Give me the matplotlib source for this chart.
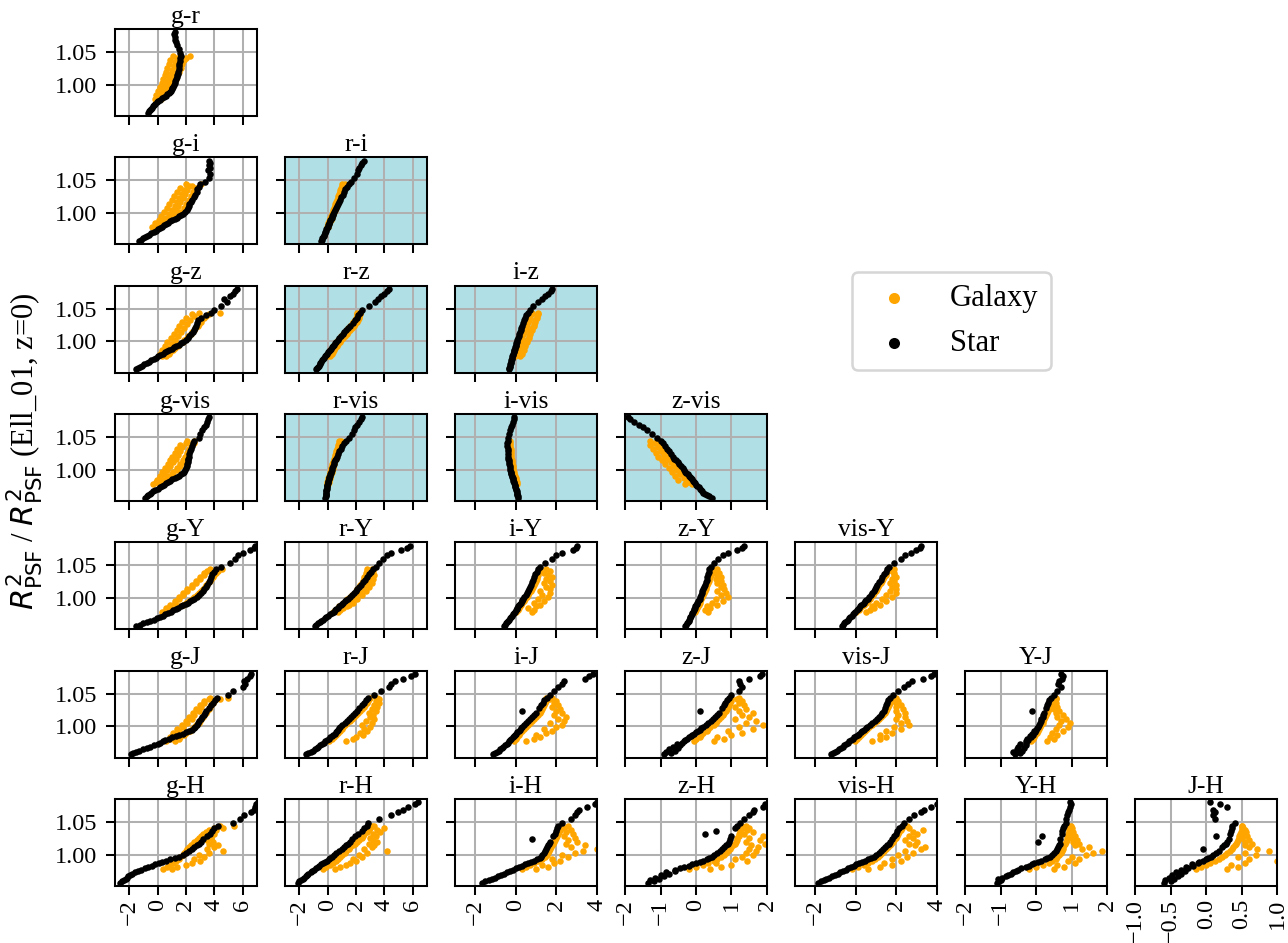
import numpy as np
import matplotlib.pyplot as plt

plt.rcParams['font.family'] = ['Liberation Serif', 'DejaVu Serif']
plt.rcParams['mathtext.fontset'] = 'dejavusans'
plt.rcParams['xtick.labelsize'] = 9.5
plt.rcParams['ytick.labelsize'] = 9.5

bands = ['g', 'r', 'i', 'z', 'vis', 'Y', 'J', 'H']
optical = ['r', 'i', 'z', 'vis']

# R^2 ratio of each star / galaxy (shared by all panels)
star_y = [0.957, 0.959, 0.961, 0.963, 0.965, 0.967, 0.969, 0.971, 0.973, 0.975,
          0.977, 0.979, 0.981, 0.983, 0.985, 0.987, 0.989, 0.991, 0.993, 0.995,
          0.997, 0.999, 1.002, 1.005, 1.008, 1.011, 1.014, 1.017, 1.020, 1.024,
          1.028, 1.032, 1.036, 1.040, 1.044, 1.048, 1.054, 1.060, 1.065, 1.069,
          1.073, 1.077, 1.080]
gal_y = [0.978, 0.981, 0.984, 0.987, 0.990, 0.993, 0.996, 0.999, 1.002, 1.005,
         1.008, 1.011, 1.014, 1.017, 1.020, 1.023, 1.026, 1.029, 1.032, 1.035,
         1.038, 1.041, 1.044]

# star colours, one list per panel
star_x = {
    'g-r': [-0.65, -0.6, -0.52, -0.45, -0.38, -0.3, -0.22, -0.15, -0.05, 0.05,
            0.15, 0.3, 0.45, 0.6, 0.7, 0.8, 0.88, 0.95, 1.0, 1.05,
            1.1, 1.15, 1.2, 1.25, 1.3, 1.35, 1.38, 1.42, 1.45, 1.5,
            1.52, 1.55, 1.6, 1.62, 1.65, 1.6, 1.5, 1.4, 1.3, 1.25,
            1.2, 1.15, 1.2],
    'g-i': [-1.3, -1.18, -1.03, -0.88, -0.73, -0.58, -0.43, -0.28, -0.13, 0.0,
            0.15, 0.3, 0.45, 0.6, 0.75, 0.9, 1.05, 1.2, 1.35, 1.5,
            1.65, 1.8, 1.95, 2.05, 2.12, 2.2, 2.25, 2.35, 2.45, 2.55,
            2.65, 2.75, 2.82, 2.9, 3.0, 3.35, 3.6, 3.7, 3.55, 3.7,
            3.6, 3.7, 3.65],
    'r-i': [-0.45, -0.4, -0.36, -0.32, -0.28, -0.24, -0.2, -0.16, -0.12, -0.08,
            -0.04, 0.0, 0.04, 0.08, 0.12, 0.16, 0.2, 0.24, 0.28, 0.32,
            0.36, 0.4, 0.46, 0.53, 0.6, 0.67, 0.74, 0.82, 0.9, 0.98,
            1.07, 1.16, 1.26, 1.36, 1.5, 1.65, 1.85, 2.05, 2.15, 2.25,
            2.35, 2.45, 2.55],
    'g-z': [-1.5, -1.4, -1.24, -1.08, -0.92, -0.76, -0.6, -0.44, -0.28, -0.12,
            0.04, 0.2, 0.36, 0.52, 0.68, 0.84, 1.0, 1.16, 1.32, 1.48,
            1.64, 1.8, 1.98, 2.12, 2.25, 2.38, 2.48, 2.55, 2.62, 2.7,
            2.78, 2.85, 3.1, 3.45, 3.75, 4.0, 4.5, 4.9, 4.7, 5.1,
            5.3, 5.5, 5.6],
    'r-z': [-0.85, -0.78, -0.71, -0.64, -0.57, -0.5, -0.43, -0.36, -0.3, -0.23,
            -0.16, -0.09, -0.02, 0.05, 0.12, 0.19, 0.26, 0.33, 0.4, 0.47,
            0.54, 0.61, 0.72, 0.82, 0.93, 1.06, 1.18, 1.31, 1.43, 1.6,
            1.78, 1.9, 2.05, 2.15, 2.3, 2.45, 2.95, 3.35, 3.55, 3.75,
            4.0, 4.2, 4.3],
    'i-z': [-0.36, -0.33, -0.31, -0.29, -0.27, -0.25, -0.23, -0.22, -0.2, -0.18,
            -0.17, -0.15, -0.13, -0.11, -0.09, -0.07, -0.05, -0.03, -0.01, 0.01,
            0.03, 0.05, 0.08, 0.11, 0.14, 0.17, 0.2, 0.23, 0.26, 0.3,
            0.35, 0.4, 0.45, 0.5, 0.6, 0.7, 0.85, 1.1, 1.3, 1.45,
            1.6, 1.75, 1.8],
    'g-vis': [-0.85, -0.75, -0.65, -0.55, -0.45, -0.3, -0.15, 0.0, 0.15, 0.3,
              0.45, 0.6, 0.75, 0.9, 1.05, 1.2, 1.35, 1.5, 1.65, 1.8,
              1.9, 1.95, 2.0, 2.05, 2.1, 2.12, 2.15, 2.18, 2.2, 2.25,
              2.3, 2.35, 2.45, 2.5, 2.6, 2.9, 3.0, 3.15, 3.3, 3.4,
              3.5, 3.55, 3.6],
    'r-vis': [-0.15, -0.14, -0.13, -0.12, -0.11, -0.1, -0.08, -0.07, -0.05, -0.04,
              -0.02, 0.0, 0.02, 0.04, 0.07, 0.1, 0.13, 0.16, 0.19, 0.22,
              0.25, 0.28, 0.33, 0.37, 0.42, 0.47, 0.53, 0.6, 0.66, 0.75,
              0.84, 0.93, 1.03, 1.15, 1.3, 1.5, 1.7, 1.85, 1.95, 2.05,
              2.2, 2.35, 2.45],
    'i-vis': [0.12, 0.1, 0.08, 0.07, 0.05, 0.04, 0.02, 0.0, -0.02, -0.04,
              -0.06, -0.08, -0.1, -0.12, -0.14, -0.16, -0.18, -0.2, -0.22, -0.24,
              -0.26, -0.27, -0.29, -0.31, -0.33, -0.34, -0.36, -0.37, -0.38, -0.39,
              -0.4, -0.41, -0.42, -0.42, -0.41, -0.4, -0.35, -0.3, -0.22, -0.17,
              -0.14, -0.1, -0.08],
    'z-vis': [0.45, 0.38, 0.3, 0.25, 0.2, 0.17, 0.13, 0.1, 0.07, 0.03,
              0.0, -0.03, -0.06, -0.09, -0.12, -0.15, -0.18, -0.21, -0.24, -0.27,
              -0.3, -0.33, -0.37, -0.42, -0.47, -0.52, -0.57, -0.62, -0.66, -0.71,
              -0.76, -0.82, -0.88, -0.94, -1.0, -1.1, -1.25, -1.38, -1.5, -1.6,
              -1.75, -1.85, -1.92],
    'g-Y': [-1.5, -1.25, -1.0, -0.75, -0.5, -0.27, -0.03, 0.2, 0.38, 0.56,
            0.74, 0.92, 1.1, 1.28, 1.46, 1.64, 1.82, 2.0, 2.15, 2.3,
            2.45, 2.6, 2.8, 2.95, 3.1, 3.2, 3.3, 3.4, 3.5, 3.6,
            3.7, 3.8, 3.85, 3.95, 4.1, 4.5, 5.1, 5.5, 5.7, 6.0,
            6.5, 6.8, 6.9],
    'r-Y': [-0.9, -0.8, -0.68, -0.56, -0.44, -0.32, -0.2, -0.08, 0.04, 0.16,
            0.3, 0.42, 0.52, 0.62, 0.72, 0.82, 0.92, 1.02, 1.12, 1.22,
            1.32, 1.42, 1.56, 1.7, 1.84, 1.98, 2.1, 2.22, 2.34, 2.48,
            2.62, 2.76, 2.9, 3.05, 3.2, 3.4, 3.6, 3.9, 4.2, 4.5,
            5.2, 5.6, 5.8],
    'i-Y': [-0.6, -0.55, -0.5, -0.45, -0.4, -0.35, -0.3, -0.25, -0.2, -0.15,
            -0.1, -0.05, 0.0, 0.04, 0.08, 0.12, 0.16, 0.2, 0.24, 0.28,
            0.32, 0.36, 0.42, 0.48, 0.54, 0.6, 0.66, 0.72, 0.77, 0.82,
            0.87, 0.92, 0.97, 1.02, 1.1, 1.2, 1.45, 1.8, 2.0, 2.3,
            2.8, 2.95, 3.0],
    'z-Y': [-0.3, -0.27, -0.25, -0.23, -0.21, -0.19, -0.17, -0.16, -0.14, -0.12,
            -0.11, -0.09, -0.07, -0.05, -0.03, -0.02, 0.0, 0.02, 0.04, 0.06,
            0.08, 0.1, 0.12, 0.14, 0.16, 0.18, 0.2, 0.22, 0.24, 0.27,
            0.3, 0.32, 0.34, 0.36, 0.38, 0.42, 0.5, 0.62, 0.75, 0.9,
            1.15, 1.3, 1.35],
    'vis-Y': [-0.7, -0.64, -0.58, -0.52, -0.46, -0.4, -0.34, -0.28, -0.22, -0.16,
              -0.1, -0.03, 0.03, 0.09, 0.15, 0.21, 0.27, 0.33, 0.39, 0.45,
              0.51, 0.57, 0.65, 0.73, 0.8, 0.87, 0.94, 1.0, 1.06, 1.14,
              1.22, 1.3, 1.38, 1.46, 1.55, 1.65, 1.9, 2.2, 2.4, 2.7,
              2.95, 3.15, 3.2],
    'g-J': [-1.9, -1.7, -1.5, -1.3, -1.0, -0.75, -0.5, -0.25, 0.0, 0.2,
            0.4, 0.55, 0.8, 1.05, 1.3, 1.55, 1.8, 2.0, 2.2, 2.4,
            2.55, 2.65, 2.75, 2.85, 2.95, 3.05, 3.15, 3.25, 3.35, 3.45,
            3.6, 3.75, 3.9, 4.05, 4.2, 5.0, 5.3, 6.0, 6.2, 6.1,
            6.3, 6.5, 6.6],
    'r-J': [-1.5, -1.35, -1.2, -1.05, -0.9, -0.78, -0.65, -0.52, -0.4, -0.28,
            -0.16, -0.04, 0.08, 0.2, 0.3, 0.4, 0.5, 0.6, 0.68, 0.76,
            0.84, 0.9, 1.05, 1.2, 1.35, 1.5, 1.65, 1.8, 1.95, 2.1,
            2.25, 2.4, 2.55, 2.7, 2.85, 3.3, 3.8, 4.3, 4.5, 4.75,
            5.3, 5.9, 6.2],
    'i-J': [-1.15, -1.05, -0.95, -0.85, -0.78, -0.7, -0.62, -0.54, -0.46, -0.4,
            -0.34, -0.28, -0.22, -0.16, -0.1, -0.04, 0.02, 0.08, 0.14, 0.2,
            0.25, 0.3, 0.4, 0.5, 0.6, 0.7, 0.8, 0.9, 1.0, 0.3,
            1.15, 1.25, 1.32, 1.4, 1.55, 1.7, 1.9, 2.1, 2.3, 2.4,
            3.4, 3.6, 3.8],
    'z-J': [-0.9, -0.7, -0.85, -0.6, -0.75, -0.5, -0.65, -0.45, -0.55, -0.4,
            -0.35, -0.3, -0.25, -0.2, -0.15, -0.1, -0.05, 0.0, 0.05, 0.1,
            0.15, 0.2, 0.27, 0.35, 0.42, 0.48, 0.54, 0.6, 0.65, 0.12,
            0.72, 0.78, 0.83, 0.88, 0.92, 1.0, 1.2, 1.3, 1.25, 1.2,
            1.5, 1.8, 1.85],
    'vis-J': [-1.25, -1.15, -1.05, -0.95, -0.85, -0.75, -0.66, -0.57, -0.48, -0.4,
              -0.32, -0.24, -0.16, -0.08, 0.0, 0.08, 0.16, 0.24, 0.32, 0.4,
              0.48, 0.56, 0.68, 0.8, 0.92, 1.04, 1.14, 1.22, 1.3, 1.38,
              1.45, 1.5, 1.55, 1.6, 1.7, 1.85, 2.1, 2.35, 2.55, 2.75,
              3.3, 3.7, 3.85],
    'Y-J': [-0.6, -0.45, -0.65, -0.4, -0.55, -0.35, -0.5, -0.3, -0.45, -0.28,
            -0.3, -0.22, -0.25, -0.15, -0.18, -0.1, -0.12, -0.04, -0.06, 0.0,
            0.02, 0.05, 0.08, 0.1, 0.13, 0.15, 0.18, 0.2, 0.22, -0.12,
            0.27, 0.3, 0.33, 0.36, 0.42, 0.5, 0.6, 0.7, 0.62, 0.65,
            0.72, 0.75, 0.7],
    'g-H': [-2.65, -2.5, -2.35, -2.25, -2.15, -2.05, -1.95, -1.8, -1.6, -1.4,
            -1.15, -0.9, -0.65, -0.4, -0.15, 0.1, 0.35, 0.6, 0.9, 1.2,
            1.5, 1.8, 2.0, 2.25, 2.45, 2.6, 2.75, 2.9, 3.05, 3.2,
            3.5, 3.7, 3.85, 4.0, 4.3, 5.3, 5.8, 6.1, 6.6, 6.8,
            6.9, 6.95, 7.1],
    'r-H': [-2.1, -2.0, -1.9, -1.75, -1.65, -1.55, -1.45, -1.35, -1.2, -1.1,
            -0.95, -0.85, -0.7, -0.6, -0.45, -0.3, -0.2, -0.05, 0.1, 0.2,
            0.32, 0.45, 0.6, 0.8, 1.0, 1.15, 1.3, 1.45, 1.6, 1.75,
            1.9, 2.15, 2.4, 2.6, 2.75, 2.85, 3.6, 4.5, 5.0, 5.3,
            5.7, 6.2, 6.4],
    'i-H': [-1.65, -1.5, -1.35, -1.2, -1.05, -0.9, -0.75, -0.6, -0.45, -0.3,
            -0.15, 0.0, 0.15, 0.3, 0.45, 0.6, 0.75, 0.9, 1.05, 1.2,
            1.25, 1.3, 1.4, 1.45, 1.5, 1.55, 1.6, 1.65, 1.7, 0.8,
            1.85, 1.92, 2.0, 2.05, 2.1, 2.3, 2.7, 2.9, 3.0, 3.1,
            3.5, 3.9, 4.0],
    'z-H': [-1.35, -1.2, -1.3, -1.05, -1.15, -0.9, -1.0, -0.75, -0.85, -0.6,
            -0.6, -0.45, -0.35, -0.2, -0.1, 0.0, 0.1, 0.2, 0.3, 0.38,
            0.45, 0.5, 0.6, 0.68, 0.74, 0.8, 0.85, 0.9, 0.93, 0.96,
            0.98, 0.25, 0.55, 1.1, 1.15, 1.25, 1.35, 1.5, 1.6, 1.65,
            1.9, 1.95, 2.1],
    'vis-H': [-1.9, -1.75, -1.6, -1.5, -1.35, -1.2, -1.05, -0.9, -0.8, -0.65,
              -0.5, -0.38, -0.25, -0.12, 0.0, 0.15, 0.3, 0.45, 0.6, 0.75,
              0.9, 1.0, 1.15, 1.25, 1.35, 1.45, 1.55, 1.62, 1.7, 1.8,
              1.9, 2.0, 2.05, 2.15, 2.25, 2.35, 2.6, 2.85, 3.2, 3.35,
              3.7, 4.0, 4.2],
    'Y-H': [-1.1, -1.05, -1.0, -1.08, -0.95, -0.85, -0.8, -0.7, -0.65, -0.58,
            -0.5, -0.42, -0.3, -0.2, -0.12, -0.05, 0.05, 0.15, 0.25, 0.32,
            0.38, 0.44, 0.5, 0.55, 0.6, 0.63, 0.65, 0.67, 0.05, 0.68,
            0.17, 0.72, 0.74, 0.76, 0.8, 0.83, 0.85, 0.88, 0.9, 0.92,
            0.95, 0.98, 0.95],
    'J-H': [-0.6, -0.5, -0.58, -0.45, -0.52, -0.4, -0.48, -0.35, -0.42, -0.3,
            -0.35, -0.25, -0.28, -0.18, -0.2, -0.12, -0.1, -0.05, 0.0, 0.03,
            0.07, 0.1, 0.14, 0.18, -0.05, 0.22, 0.25, 0.28, 0.3, 0.32,
            0.14, 0.34, 0.35, 0.36, 0.37, 0.4, 0.12, 0.1, 0.12, 0.1,
            0.3, 0.2, 0.05],
}

# galaxy colours, two galaxies per R^2 level (set a and set b)
gal_a = {
    'g-r': [-0.2, 0.05, -0.1, 0.15, 0.05, 0.35, 0.15, 0.55, 0.3, 0.7, 0.4, 0.8, 0.5, 0.95, 0.6, 1.05, 0.7, 1.15, 0.8, 1.25, 0.9, 1.4, 1.1],
    'g-i': [-0.38, -0.06, -0.16, 0.26, 0.08, 0.57, 0.28, 0.81, 0.48, 1.05, 0.67, 1.22, 0.83, 1.39, 0.99, 1.55, 1.16, 1.71, 1.34, 1.88, 1.62, 2.24, 2.0],
    'r-i': [-0.05, 0.0, 0.05, 0.1, 0.15, 0.2, 0.25, 0.3, 0.35, 0.4, 0.45, 0.5, 0.55, 0.6, 0.65, 0.7, 0.75, 0.8, 0.85, 0.9, 0.95, 1.0, 1.05],
    'g-z': [0.3, 0.2, 0.6, 0.3, 0.8, 0.5, 1.0, 0.7, 1.25, 0.95, 1.45, 1.15, 1.65, 1.35, 1.85, 1.55, 2.05, 1.75, 2.3, 2.0, 2.55, 2.4, 2.9],
    'r-z': [-0.05, 0.05, 0.12, 0.2, 0.3, 0.4, 0.5, 0.6, 0.72, 0.85, 0.97, 1.1, 1.22, 1.35, 1.47, 1.58, 1.7, 1.8, 1.9, 2.0, 2.05, 2.1, 2.1],
    'i-z': [-0.05, 0.0, 0.05, 0.05, 0.1, 0.12, 0.17, 0.2, 0.25, 0.27, 0.32, 0.35, 0.4, 0.42, 0.48, 0.5, 0.55, 0.58, 0.63, 0.66, 0.7, 0.75, 0.8],
    'g-vis': [-0.3, -0.1, -0.05, 0.2, 0.15, 0.45, 0.35, 0.7, 0.55, 0.9, 0.75, 1.1, 0.9, 1.3, 1.05, 1.45, 1.2, 1.6, 1.4, 1.75, 1.6, 2.0, 2.1],
    'r-vis': [-0.05, -0.02, 0.02, 0.06, 0.1, 0.14, 0.18, 0.22, 0.26, 0.3, 0.34, 0.38, 0.42, 0.46, 0.5, 0.54, 0.58, 0.62, 0.66, 0.7, 0.74, 0.78, 0.82],
    'i-vis': [-0.02, -0.05, -0.08, -0.11, -0.14, -0.17, -0.2, -0.22, -0.24, -0.26, -0.28, -0.29, -0.31, -0.32, -0.33, -0.34, -0.35, -0.35, -0.36, -0.37, -0.37, -0.37, -0.36],
    'z-vis': [-0.31, -0.26, -0.5, -0.35, -0.59, -0.44, -0.68, -0.53, -0.77, -0.62, -0.87, -0.72, -0.97, -0.82, -1.06, -0.9, -1.14, -0.98, -1.22, -1.06, -1.3, -1.16, -1.3],
    'g-Y': [0.3, 0.6, 0.6, 0.9, 0.9, 1.2, 1.2, 1.5, 1.5, 1.8, 1.8, 2.1, 2.1, 2.4, 2.4, 2.7, 2.7, 3.0, 3.0, 3.25, 3.3, 3.5, 3.7],
    'r-Y': [0.4, 0.5, 0.7, 0.8, 1.0, 1.1, 1.3, 1.4, 1.6, 1.7, 1.9, 2.0, 2.1, 2.2, 2.3, 2.4, 2.5, 2.6, 2.6, 2.7, 2.7, 2.8, 2.8],
    'i-Y': [0.0, 0.1, 0.15, 0.2, 0.25, 0.3, 0.4, 0.45, 0.55, 0.6, 0.65, 0.75, 0.8, 0.85, 0.9, 0.95, 1.0, 1.05, 1.05, 1.1, 1.1, 1.15, 1.2],
    'z-Y': [-0.02, 0.0, 0.02, 0.05, 0.07, 0.1, 0.12, 0.15, 0.18, 0.2, 0.22, 0.24, 0.27, 0.29, 0.31, 0.34, 0.36, 0.38, 0.4, 0.42, 0.44, 0.46, 0.48],
    'vis-Y': [0.0, 0.13, 0.22, 0.31, 0.4, 0.49, 0.58, 0.67, 0.75, 0.83, 0.9, 0.97, 1.04, 1.1, 1.16, 1.22, 1.28, 1.34, 1.4, 1.46, 1.5, 1.55, 1.6],
    'g-J': [0.6, 0.9, 0.9, 1.2, 1.1, 1.5, 1.4, 1.8, 1.7, 2.1, 2.0, 2.4, 2.2, 2.6, 2.5, 2.9, 2.7, 3.1, 3.0, 3.3, 3.3, 3.6, 3.7],
    'r-J': [0.1, 0.3, 0.45, 0.6, 0.75, 0.9, 1.0, 1.1, 1.25, 1.4, 1.55, 1.7, 1.85, 2.0, 2.15, 2.3, 2.45, 2.55, 2.65, 2.75, 2.85, 2.95, 3.0],
    'i-J': [-0.1, 0.0, 0.05, 0.15, 0.2, 0.3, 0.4, 0.5, 0.6, 0.7, 0.8, 0.9, 1.0, 1.1, 1.2, 1.25, 1.3, 1.35, 1.4, 1.45, 1.5, 1.55, 1.5],
    'z-J': [-0.05, 0.0, 0.1, 0.15, 0.2, 0.3, 0.35, 0.4, 0.5, 0.55, 0.6, 0.65, 0.7, 0.75, 0.8, 0.85, 0.88, 0.9, 0.93, 0.95, 0.98, 1.0, 1.0],
    'vis-J': [-0.05, 0.05, 0.15, 0.25, 0.35, 0.45, 0.55, 0.65, 0.8, 0.9, 1.05, 1.15, 1.25, 1.35, 1.45, 1.5, 1.55, 1.6, 1.65, 1.7, 1.75, 1.8, 1.85],
    'Y-J': [-0.15, -0.1, -0.05, -0.02, 0.02, 0.05, 0.08, 0.12, 0.15, 0.18, 0.2, 0.23, 0.26, 0.28, 0.3, 0.33, 0.35, 0.38, 0.4, 0.42, 0.45, 0.47, 0.5],
    'g-H': [0.4, 0.7, 0.9, 1.1, 1.3, 1.5, 1.6, 1.8, 1.9, 2.0, 2.1, 2.2, 2.35, 2.5, 2.6, 2.75, 2.9, 3.05, 3.2, 3.4, 3.6, 4.0, 4.4],
    'r-H': [-0.3, -0.1, 0.2, 0.4, 0.6, 0.7, 0.9, 1.0, 1.2, 1.3, 1.5, 1.6, 1.8, 1.9, 2.1, 2.2, 2.4, 2.5, 2.6, 2.8, 2.9, 3.0, 3.1],
    'i-H': [0.3, 0.5, 0.7, 0.9, 1.1, 1.3, 1.45, 1.55, 1.6, 1.65, 1.7, 1.75, 1.8, 1.85, 1.9, 1.95, 2.0, 2.05, 2.1, 2.15, 2.2, 2.2, 2.25],
    'z-H': [-0.2, 0.0, 0.2, 0.35, 0.5, 0.6, 0.7, 0.8, 0.85, 0.9, 0.95, 1.0, 1.05, 1.1, 1.12, 1.15, 1.17, 1.2, 1.22, 1.25, 1.25, 1.3, 1.3],
    'vis-H': [-0.2, 0.1, 0.4, 0.6, 0.8, 0.95, 1.1, 1.2, 1.3, 1.4, 1.5, 1.6, 1.7, 1.75, 1.85, 1.9, 2.0, 2.05, 2.1, 2.15, 2.2, 2.25, 2.3],
    'Y-H': [-0.2, 0.0, 0.2, 0.35, 0.45, 0.55, 0.6, 0.65, 0.7, 0.72, 0.75, 0.77, 0.8, 0.82, 0.85, 0.87, 0.88, 0.9, 0.9, 0.92, 0.92, 0.93, 0.93],
    'J-H': [-0.15, -0.08, 0.0, 0.05, 0.12, 0.18, 0.22, 0.27, 0.3, 0.33, 0.36, 0.38, 0.4, 0.42, 0.44, 0.45, 0.46, 0.47, 0.48, 0.49, 0.5, 0.5, 0.5],
}
gal_b = {
    'g-r': [0.25, 0.2, 0.45, 0.4, 0.75, 0.6, 0.95, 0.8, 1.15, 1.0, 1.3, 1.15, 1.4, 1.3, 1.55, 1.45, 1.65, 1.55, 1.75, 1.7, 1.9, 2.0, 2.3],
    'g-i': [-0.05, 0.05, 0.47, 0.4, 0.98, 0.76, 1.3, 1.03, 1.6, 1.28, 1.84, 1.46, 2.02, 1.62, 2.19, 1.79, 2.33, 1.94, 2.48, 2.1, 2.72, 2.46, 3.06],
    'r-i': [0.0, 0.05, 0.1, 0.15, 0.22, 0.28, 0.33, 0.38, 0.44, 0.5, 0.56, 0.62, 0.68, 0.74, 0.8, 0.85, 0.9, 0.95, 1.0, 1.05, 1.1, 1.15, 1.2],
    'g-z': [0.6, 0.8, 0.9, 1.1, 1.2, 1.45, 1.55, 1.8, 1.85, 2.1, 2.15, 2.35, 2.4, 2.6, 2.65, 2.85, 2.9, 3.05, 3.1, 3.3, 3.4, 3.6, 4.4],
    'r-z': [0.2, 0.3, 0.37, 0.45, 0.55, 0.65, 0.75, 0.85, 0.97, 1.1, 1.22, 1.35, 1.47, 1.6, 1.72, 1.83, 1.95, 2.05, 2.12, 2.2, 2.25, 2.3, 2.3],
    'i-z': [0.2, 0.3, 0.28, 0.38, 0.36, 0.45, 0.45, 0.55, 0.55, 0.63, 0.63, 0.72, 0.72, 0.8, 0.8, 0.88, 0.88, 0.95, 0.95, 1.02, 1.02, 1.08, 1.1],
    'g-vis': [0.1, 0.35, 0.4, 0.7, 0.75, 1.0, 1.1, 1.35, 1.4, 1.6, 1.6, 1.8, 1.8, 1.95, 1.95, 2.05, 2.05, 2.2, 2.2, 2.35, 2.4, 2.6, 2.55],
    'r-vis': [0.05, 0.08, 0.12, 0.16, 0.2, 0.24, 0.28, 0.32, 0.36, 0.4, 0.44, 0.48, 0.52, 0.56, 0.6, 0.64, 0.68, 0.72, 0.76, 0.8, 0.84, 0.88, 0.92],
    'i-vis': [0.08, 0.05, 0.02, -0.01, -0.04, -0.07, -0.1, -0.12, -0.14, -0.16, -0.18, -0.19, -0.21, -0.22, -0.23, -0.24, -0.25, -0.25, -0.26, -0.27, -0.27, -0.3, -0.3],
    'z-vis': [-0.11, -0.21, -0.15, -0.3, -0.24, -0.39, -0.33, -0.48, -0.42, -0.57, -0.52, -0.67, -0.62, -0.77, -0.71, -0.85, -0.79, -0.93, -0.87, -1.01, -0.95, -1.11, -1.1],
    'g-Y': [0.8, 1.0, 1.3, 1.5, 1.8, 2.0, 2.2, 2.4, 2.6, 2.8, 2.95, 3.1, 3.2, 3.35, 3.45, 3.55, 3.7, 3.8, 3.9, 4.0, 4.1, 4.3, 4.55],
    'r-Y': [0.7, 0.9, 1.1, 1.4, 1.5, 1.8, 1.7, 2.1, 2.0, 2.4, 2.3, 2.7, 2.6, 2.9, 2.8, 3.1, 2.9, 3.2, 3.0, 3.3, 3.1, 3.2, 3.1],
    'i-Y': [0.8, 0.9, 0.6, 1.0, 1.2, 0.9, 1.4, 1.1, 1.6, 1.3, 1.7, 1.2, 1.7, 1.5, 1.8, 1.4, 1.7, 1.5, 1.8, 1.6, 1.4, 1.7, 1.5],
    'z-Y': [0.35, 0.25, 0.4, 0.3, 0.6, 0.45, 0.75, 0.55, 0.9, 0.7, 0.85, 0.6, 0.8, 0.7, 0.75, 0.6, 0.7, 0.55, 0.7, 0.6, 0.65, 0.55, 0.6],
    'vis-Y': [0.5, 0.7, 0.9, 0.8, 1.2, 1.0, 1.5, 1.3, 1.8, 1.5, 2.0, 1.7, 2.0, 1.8, 2.0, 1.7, 1.9, 1.8, 2.0, 1.9, 1.9, 1.8, 1.9],
    'g-J': [1.2, 1.5, 1.6, 1.9, 2.0, 2.3, 2.4, 2.6, 2.7, 2.9, 3.0, 3.1, 3.2, 3.3, 3.4, 3.5, 3.6, 3.7, 3.8, 3.9, 4.0, 4.4, 5.0],
    'r-J': [1.3, 1.8, 2.0, 2.5, 2.3, 2.8, 2.6, 3.0, 2.4, 3.1, 2.7, 3.3, 3.0, 3.2, 2.9, 3.4, 3.1, 3.5, 3.3, 3.6, 3.4, 3.6, 3.5],
    'i-J': [0.5, 0.9, 1.2, 1.0, 1.5, 1.8, 1.4, 2.0, 2.3, 1.7, 2.4, 2.1, 2.5, 1.9, 2.3, 2.0, 2.2, 1.8, 2.1, 1.9, 2.0, 1.7, 1.8],
    'z-J': [0.5, 0.8, 0.6, 1.0, 1.3, 0.9, 1.6, 1.2, 1.9, 1.4, 1.7, 1.1, 1.5, 1.3, 1.6, 1.2, 1.4, 1.1, 1.35, 1.2, 1.3, 1.15, 1.2],
    'vis-J': [0.8, 1.2, 1.5, 1.2, 1.8, 1.5, 2.2, 1.9, 2.6, 2.2, 2.5, 2.0, 2.4, 2.1, 2.4, 2.0, 2.3, 2.0, 2.2, 2.0, 2.1, 1.95, 2.0],
    'Y-J': [0.3, 0.5, 0.4, 0.6, 0.45, 0.75, 0.55, 0.9, 0.65, 0.95, 0.7, 0.85, 0.6, 0.75, 0.55, 0.65, 0.5, 0.6, 0.5, 0.55, 0.5, 0.55, 0.55],
    'g-H': [1.0, 1.4, 2.0, 2.4, 3.0, 2.6, 3.3, 2.9, 3.6, 4.6, 3.5, 4.0, 4.3, 3.6, 3.9, 3.5, 3.8, 3.6, 4.0, 3.9, 4.1, 4.6, 5.4],
    'r-H': [0.5, 0.9, 1.3, 1.6, 2.0, 1.8, 2.4, 2.2, 2.8, 4.2, 2.6, 3.1, 3.3, 2.9, 3.5, 3.2, 3.0, 3.4, 3.2, 3.7, 3.5, 4.0, 3.3],
    'i-H': [1.0, 1.6, 1.3, 1.9, 2.2, 1.8, 2.6, 2.3, 2.9, 3.3, 4.0, 2.7, 3.4, 2.5, 3.0, 2.6, 2.9, 2.4, 2.8, 2.5, 2.7, 2.4, 2.6],
    'z-H': [0.4, 0.7, 1.0, 0.55, 1.45, 1.1, 1.3, 1.6, 1.4, 1.7, 1.5, 1.75, 1.55, 1.95, 1.4, 1.8, 1.5, 1.9, 1.35, 1.6, 1.45, 1.5, 1.4],
    'vis-H': [0.6, 1.2, 1.8, 1.4, 2.2, 1.8, 2.5, 2.1, 2.8, 2.4, 3.2, 3.4, 2.9, 2.6, 3.0, 2.4, 2.8, 2.6, 3.0, 2.8, 3.3, 2.6, 2.5],
    'Y-H': [0.5, 0.8, 0.6, 1.1, 0.9, 1.2, 1.0, 1.4, 1.6, 1.85, 1.3, 1.5, 1.1, 1.2, 1.05, 1.15, 1.0, 1.1, 1.0, 1.05, 0.98, 1.0, 0.98],
    'J-H': [0.3, 0.45, 0.35, 0.55, 1.0, 0.6, 0.45, 0.7, 0.55, 0.88, 0.72, 0.6, 0.55, 0.65, 0.55, 0.6, 0.5, 0.58, 0.52, 0.56, 0.55, 0.52, 0.5],
}

xlims = {'g': (-3, 7), 'r': (-3, 7), 'i': (-3, 4), 'z': (-2, 2),
         'vis': (-3, 4), 'Y': (-2, 2), 'J': (-1, 1)}
xticks = {'g': [-2, 0, 2, 4, 6], 'r': [-2, 0, 2, 4, 6], 'i': [-2, 0, 2, 4],
          'z': [-2, -1, 0, 1, 2], 'vis': [-2, 0, 2, 4], 'Y': [-2, -1, 0, 1, 2],
          'J': [-1.0, -0.5, 0.0, 0.5, 1.0]}

fig, axes = plt.subplots(7, 7, figsize=(7.0, 5.125), dpi=184,
                         sharex='col', sharey=True,
                         gridspec_kw=dict(left=0.0893, right=0.9915, top=0.9692,
                                          bottom=0.0604, wspace=0.2, hspace=0.475))

msize = 6.5
for r in range(7):
    for c in range(7):
        ax = axes[r, c]
        if c > r:
            ax.axis('off')
            continue
        b1, b2 = bands[c], bands[r + 1]
        name = b1 + '-' + b2
        hg = ax.scatter(gal_a[name], gal_y, s=msize, c='orange', linewidths=0, label='Galaxy')
        ax.scatter(gal_b[name], gal_y, s=msize, c='orange', linewidths=0)
        hs = ax.scatter(star_x[name], star_y, s=msize, c='black', linewidths=0, label='Star')
        if b1 in optical and b2 in optical:
            ax.set_facecolor('powderblue')
        ax.grid(True)
        ax.set_axisbelow(True)
        ax.set_title(name, fontsize=10, pad=2.5)
        ax.set_xlim(xlims[b1])
        ax.set_xticks(xticks[b1])
        if r == 6:
            ax.tick_params(axis='x', labelrotation=90, pad=1.5)

axes[0, 0].set_ylim(0.952, 1.085)
axes[0, 0].set_yticks([1.00, 1.05])
axes[0, 0].set_yticklabels(['1.00', '1.05'])

fig.legend([hg, hs], ['Galaxy', 'Star'], loc='center',
           bbox_to_anchor=(0.7384, 0.6596), fontsize=12, markerscale=1.7)

fig.text(0.0194, 0.5217, r'$R^2_{\rm PSF}$ / $R^2_{\rm PSF}$ (Ell_01, z=0)',
         rotation=90, va='center', ha='center', fontsize=12)

fig.savefig('out.png', dpi=184)
